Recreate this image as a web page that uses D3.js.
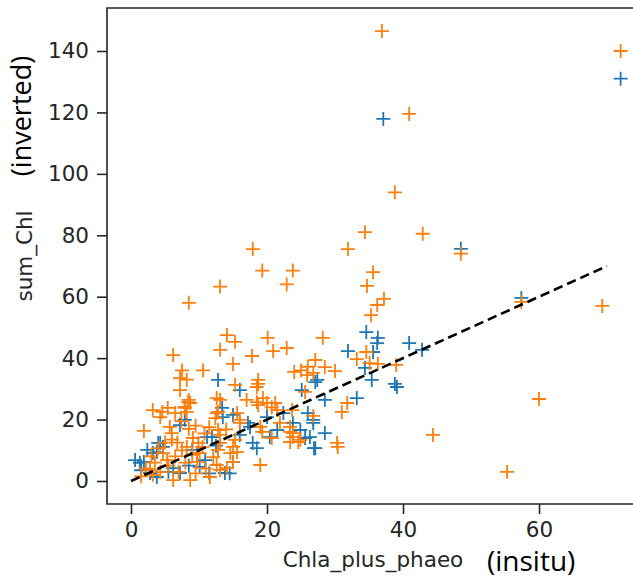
<!DOCTYPE html>
<html>
<head>
<meta charset="utf-8">
<script src="https://cdn.jsdelivr.net/npm/d3@7"></script>
<style>
  html, body { margin: 0; padding: 0; background: #fff; }
  svg { display: block; }
</style>
</head>
<body>
<svg id="chart" width="633" height="578"></svg>
<script>
// blue series (x = Chla_plus_phaeo, y = sum_Chl)
const blueX = [0.6,1.3,2.4,3.2,4,4.7,2.8,3.8,6.2,7.2,7.9,7.2,9,9.7,10.1,10.9,11.9,12.8,13.4,13.5,15,16,15,17.2,17.5,17.9,18.5,16,20,20.4,21.5,22.4,23.8,24.9,26.3,27.1,26.8,27.4,25.1,26,
  34.6,36.3,36.2,40.9,42.8,31.9,34.4,35.4,38.8,39.1,27.1,33.2,28.5,26.8,28.5,26.9,35.6,37.1,48.5,57.4,72,
  1.9,4.3,3.8,11.2,5.5,8.5,1.5,12.5,14.5,11.5,13.8,25.6];
const blueY = [6.8,5.9,10.1,9.1,12.4,11.1,2.6,1.3,4.2,2.6,19.9,18.2,10.1,9.1,4.6,6.8,14.3,32.9,23.8,20.8,6.2,15,21.5,18.9,17.6,12.4,10.7,29.6,20.8,14.3,16.6,22.1,18.9,16.6,14.3,10.7,18.9,32.9,29.6,22.1,
  48.5,46.6,44.9,44.9,42.7,42.3,36.8,32.9,31.6,30.6,32.2,27,26.4,19.9,15.6,10.7,42,117.9,75.6,59.6,131,
  6.2,12.4,9.4,14.3,3,5,3.5,11.5,2.5,2.5,2.6,14];

// orange series
const orangeX = [36.9,72,40.9,38.8,34.4,31.9,42.9,48.5,35.6,34.7,17.9,19.3,23.8,22.9,13.1,8.5,37.2,36.2,35.3,57.4,69.3,44.4,60,55.3,
  28.2,33.2,34.6,35.1,36.3,39,27.1,28.5,30,26.8,31.8,31,26.8,30.3,30.4,25,26,25.9,24,25.6,23.7,
  14.1,15.3,13.1,20.1,20.9,22.9,17.8,15,18.7,6.2,7.5,7.2,8.2,7.2,10.6,15.3,18.5,18.7,
  17,18.5,20,21.2,21.5,20.7,19.4,12.6,12.4,12.6,13.1,8.4,7.9,
  16,21.9,19,19.3,20.7,23.4,23.8,23.4,24.6,19,12.8,13.1,23.8,24.9,23.4,
  1.9,3.2,4.6,5.4,6.5,4.3,5.7,6,7.9,8.2,8.7,8.5,
  2.8,3.2,4.3,5.3,4.7,4,6.2,8.7,10.1,9.7,12.1,12.6,11.6,13.1,14.1,8.2,9.1,9.9,13.1,12.8,15,15.6,15.3,12.8,14.6,15,18.7,16,15.6,
  5.5,6.5,7,7.5,8,9,10.5,11,6.8,9.5,3.5,2.2,1.5,10.8,11.5,9.5,8.5,7.4,6,14,5,3];
const orangeY = [146.5,140,119.5,94,81,75.5,80.5,74,68,63.5,75.5,68.5,68.5,64,63.3,58,59.3,57.3,54,58.3,57,15,26.7,3,
  46.6,39.7,42,38.4,38.1,37.8,39.4,37.1,35.8,35.2,25.4,22.5,21.2,12.4,11.1,36,37.2,34.5,35.5,29,23.1,
  47.5,45.3,42.7,46.6,42.3,43.3,40.7,38.1,32.9,41,36,33.5,33,29.6,36,31.3,30.6,31.6,
  26.4,25.7,25.4,25.4,23.1,24,27,22.1,20.5,27,26.4,25.7,23.8,
  18.9,18.9,17.6,16,14,16,14.3,12.7,12.7,5.2,16.6,15,15.6,13.4,17.6,
  16.3,23.1,22.5,23.8,22.1,20.8,17.6,15.6,24.1,22.5,25.4,26.4,
  3.6,2,2.9,6.8,9.1,10.7,0.3,0.3,9.1,6.2,7.8,5.2,1.3,3.6,4.2,11.1,14,12.4,12.4,10.1,11.1,9.4,13.4,22.5,9.1,6.2,24.7,19.9,22.1,
  5,8,3,10,6,8.5,11,4,12.5,2.5,6,4,1.5,15.5,17.5,18,17,19.5,13.5,16.8,12.5,8];

// 1:1 reference line
const refX = [0, 70];
const refY = [0, 70];

const xTicks = [0, 20, 40, 60];
const yTicks = [0, 20, 40, 60, 80, 100, 120, 140];

const svg = d3.select("#chart");
const plotL = 107, plotR = 639, plotT = 8, plotB = 504;

const x = d3.scaleLinear().domain([-3.53, 74.7]).range([plotL, plotR]);
const y = d3.scaleLinear().domain([-7.49, 154.0]).range([plotB, plotT]);

const tickFont = "DejaVu Sans";
const ink = "#262626";

// points, blue first then orange on top
const cross = "M-7,0H7M0,-7V7";
function drawSeries(xs, ys, color) {
  svg.append("g").selectAll("path")
    .data(xs.map((d, i) => [d, ys[i]]))
    .join("path")
    .attr("d", cross)
    .attr("transform", d => `translate(${x(d[0])},${y(d[1])})`)
    .attr("stroke", color)
    .attr("stroke-width", 1.8)
    .attr("fill", "none");
}
drawSeries(blueX, blueY, "#1f77b4");
drawSeries(orangeX, orangeY, "#ff7f0e");

// dashed line
svg.append("path")
  .datum(refX.map((d, i) => [d, refY[i]]))
  .attr("d", d3.line().x(d => x(d[0])).y(d => y(d[1])))
  .attr("stroke", "#000")
  .attr("stroke-width", 2.6)
  .attr("stroke-dasharray", "9.5,5")
  .attr("fill", "none");

// frame (right side is cut off by the picture edge)
svg.append("path")
  .attr("d", `M${plotR},${plotT}H${plotL}V${plotB}H${plotR}`)
  .attr("stroke", ink)
  .attr("stroke-width", 1.6)
  .attr("fill", "none");

// axes
const xAxis = svg.append("g")
  .attr("transform", `translate(0,${plotB})`)
  .call(d3.axisBottom(x).tickValues(xTicks).tickSize(10).tickPadding(8));
const yAxis = svg.append("g")
  .attr("transform", `translate(${plotL},0)`)
  .call(d3.axisLeft(y).tickValues(yTicks).tickSize(10).tickPadding(8));

[xAxis, yAxis].forEach(g => {
  g.select(".domain").remove();
  g.selectAll(".tick line").attr("stroke", ink).attr("stroke-width", 1.6);
  g.selectAll(".tick text")
    .attr("fill", ink)
    .style("font-family", tickFont)
    .style("font-size", "21.5px");
});

// axis labels
svg.append("text")
  .attr("x", (plotL + plotR) / 2)
  .attr("y", 567)
  .attr("text-anchor", "middle")
  .attr("fill", ink)
  .style("font-family", tickFont)
  .style("font-size", "21.5px")
  .text("Chla_plus_phaeo");

svg.append("text")
  .attr("transform", `translate(32,${(plotT + plotB) / 2}) rotate(-90)`)
  .attr("text-anchor", "middle")
  .attr("fill", ink)
  .style("font-family", tickFont)
  .style("font-size", "21.5px")
  .text("sum_Chl");

// extra annotations
svg.append("text")
  .attr("x", 487)
  .attr("y", 571)
  .attr("fill", "#000")
  .style("font-family", "Open Sans")
  .style("font-weight", 400)
  .style("font-size", "28px")
  .text("(insitu)");

svg.append("text")
  .attr("transform", "translate(31,116) rotate(-90)")
  .attr("text-anchor", "middle")
  .attr("fill", "#000")
  .style("font-family", "Open Sans")
  .style("font-weight", 400)
  .style("font-size", "27px")
  .text("(inverted)");
</script>
</body>
</html>
